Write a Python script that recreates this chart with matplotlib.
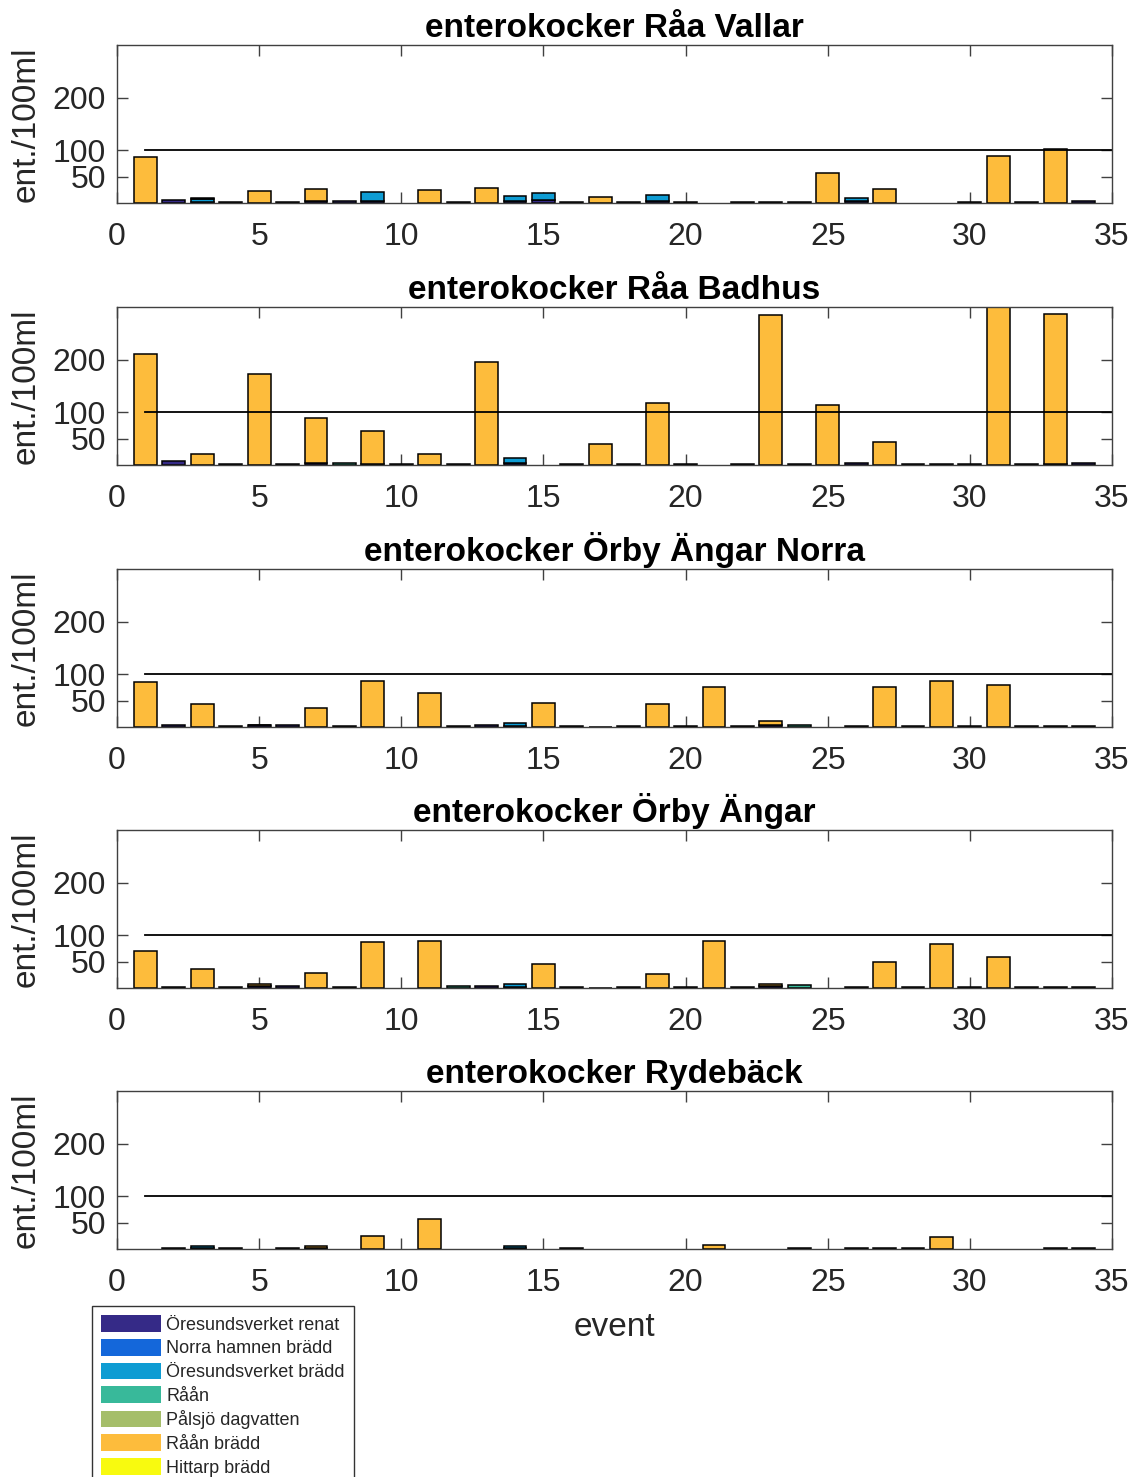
import numpy as np
import matplotlib
matplotlib.use("Agg")
import matplotlib.pyplot as plt
from matplotlib.patches import Patch

plt.rcParams['font.family'] = ['Liberation Sans', 'DejaVu Sans']

events = np.arange(1, 35)
series_names = ["Öresundsverket renat", "Norra hamnen brädd", "Öresundsverket brädd",
                "Råån", "Pålsjö dagvatten", "Råån brädd", "Hittarp brädd"]
series_colors = ["#352A87", "#1467DA", "#0E9CD3", "#38B99A", "#A5BE6A", "#FDBC3C", "#F8FA0F"]
titles = ["enterokocker Råa Vallar", "enterokocker Råa Badhus",
          "enterokocker Örby Ängar Norra", "enterokocker Örby Ängar",
          "enterokocker Rydebäck"]

Z = [0] * 34

# ---- Råa Vallar ----
vallar_renat = [0, 5, 2, 2, 0, 2.5, 4, 3, 4, 0, 0, 2, 0, 3, 6, 2.5, 0, 1, 3, 2,
                0, 1, 1, 1.5, 0, 3, 0, 0, 0, 1, 0, 1, 0, 3]
vallar_oresund_bradd = [0, 0, 5, 0, 0, 0, 0, 0, 16, 0, 0, 0, 0, 10, 12.5, 0, 0, 0, 11.5, 0,
                        0, 0, 0, 0, 0, 7, 0, 0, 0, 0, 0, 0, 0, 0]
vallar_raan = Z
vallar_raan_bradd = [87, 0, 3, 0, 23.5, 0, 23, 0, 0, 0, 24, 0, 28, 0, 0, 0, 11.5, 0, 0, 0,
                     0, 0, 0, 0, 57, 0, 26, 0, 0, 0, 88.5, 0, 102.5, 0]

# ---- Råa Badhus ----
badhus_renat = [0, 8, 0, 1, 0, 1, 4, 0, 2, 1, 0, 1, 0, 3, 0, 1, 0, 1, 0, 1,
                0, 0, 0, 1.5, 0, 4.5, 0, 1, 1, 1, 0, 1, 2, 3]
badhus_oresund_bradd = [0, 0, 0, 0, 0, 0, 0, 0, 0, 0, 0, 0, 0, 10, 0, 0, 0, 0, 0, 0,
                        0, 0, 0, 0, 0, 0, 0, 0, 0, 0, 0, 0, 0, 0]
badhus_raan = [0, 0, 0, 0, 0, 0, 0, 4.5, 0, 0, 0, 0, 0, 0, 0, 0, 0, 0, 0, 0,
               0, 1.5, 0, 0, 0, 0, 0, 0, 0, 0, 0, 0, 0, 0]
badhus_raan_bradd = [211, 0, 20, 0, 173, 0, 85, 0, 62, 0, 20, 0, 196, 0, 0, 0, 39.5, 0, 118, 0,
                     0, 0, 284, 0, 113, 0, 44.5, 0, 0, 0, 320, 0, 284, 0]

# ---- Örby Ängar Norra ----
norra_renat = [0, 4.5, 0, 1, 3, 3, 0, 1, 0, 0, 0, 2.5, 4.5, 2, 0, 1, 0.5, 1, 0, 1,
               0, 1, 4, 0, 0, 2.5, 0, 1, 0, 1, 0, 1, 1.5, 1.5]
norra_oresund_bradd = [0, 0, 0, 0, 0, 0, 0, 0, 0, 0, 0, 0, 0, 5.5, 0, 0, 0, 0, 0, 0,
                       0, 0, 0, 0, 0, 0, 0, 0, 0, 0, 0, 0, 0, 0]
norra_raan = [0, 0, 0, 0, 0, 0, 0, 0, 0, 0, 0, 0, 0, 0, 0, 0, 0, 0, 0, 0,
              0, 0, 0, 4.5, 0, 0, 0, 0, 0, 0, 0, 0, 0, 0]
norra_raan_bradd = [85, 0, 43, 0, 1.5, 0, 36, 0, 87, 0, 64, 0, 0, 0, 45, 0, 0, 0, 44, 0,
                    76, 0, 8, 0, 0, 0, 76, 0, 88, 0, 80, 0, 0, 0]

# ---- Örby Ängar ----
angar_renat = [0, 2.5, 0, 1.5, 3, 4.5, 0, 1, 0, 0, 0, 0, 3, 2, 0, 1, 0.5, 1.5, 0, 1,
               0, 1, 3, 0, 0, 2.5, 0, 2.5, 0, 1, 0, 1, 2, 1]
angar_oresund_bradd = [0, 0, 0, 0, 0, 0, 0, 0, 0, 0, 0, 0, 0, 6, 0, 0, 0, 0, 0, 0,
                       0, 0, 0, 0, 0, 0, 0, 0, 0, 0, 0, 0, 0, 0]
angar_raan = [0, 0, 0, 0, 0, 0, 0, 0, 0, 0, 0, 3, 0, 0, 0, 0, 0, 0, 0, 0,
              0, 0, 0, 5.5, 0, 0, 0, 0, 0, 0, 0, 0, 0, 0]
angar_raan_bradd = [71, 0, 37, 0, 4, 0, 28, 0, 87, 0, 90, 0, 0, 0, 45, 0, 0, 0, 26, 0,
                    90, 0, 4.5, 0, 0, 0, 49, 0, 83, 0, 58.5, 0, 0, 0]

# ---- Rydebäck ----
ryde_renat = [0, 2, 2, 1, 0, 1, 1.5, 0, 0, 0, 0, 0, 0, 2, 0, 1, 0, 0, 0, 0,
              0, 0, 0, 1, 0, 2, 0, 1, 0, 0, 0, 0, 1, 1]
ryde_oresund_bradd = [0, 0, 4.5, 0, 0, 0, 0, 0, 0, 0, 0, 0, 0, 3.5, 0, 0, 0, 0, 0, 0,
                      0, 0, 0, 0, 0, 0, 0, 0, 0, 0, 0, 0, 0, 0]
ryde_raan = Z
ryde_raan_bradd = [0, 0, 0, 0, 0, 0, 4, 0, 25, 0, 57, 0, 0, 0, 0, 0, 0, 0, 0, 0,
                   7.5, 0, 0, 0, 0, 0, 2, 0, 22, 0, 0, 0, 0, 0]

panels = [
    [vallar_renat, Z, vallar_oresund_bradd, vallar_raan, Z, vallar_raan_bradd, Z],
    [badhus_renat, Z, badhus_oresund_bradd, badhus_raan, Z, badhus_raan_bradd, Z],
    [norra_renat, Z, norra_oresund_bradd, norra_raan, Z, norra_raan_bradd, Z],
    [angar_renat, Z, angar_oresund_bradd, angar_raan, Z, angar_raan_bradd, Z],
    [ryde_renat, Z, ryde_oresund_bradd, ryde_raan, Z, ryde_raan_bradd, Z],
]

limit_value = 100
yticks = [50, 100, 200]
xticks = [0, 5, 10, 15, 20, 25, 30, 35]

W, H = 1141, 1477
fig = plt.figure(figsize=(W / 100, H / 100), dpi=100)

left_px, right_px = 117, 1112
tops = [45, 307, 569, 830, 1091]
ax_h = 158
spine_col = "#404040"

axes = []
for i, (title, data) in enumerate(zip(titles, panels)):
    ax = fig.add_axes([left_px / W, 1 - (tops[i] + ax_h) / H,
                       (right_px - left_px) / W, ax_h / H])
    bottom = np.zeros(len(events))
    for s, vals in enumerate(data):
        v = np.asarray(vals, dtype=float)
        lw = np.where(v > 0, 1.1, 0.0)
        ax.bar(events, v, width=0.8, bottom=bottom, color=series_colors[s],
               edgecolor="black", linewidth=lw, zorder=2)
        bottom = bottom + v
    ax.plot([1, 35], [limit_value, limit_value], color="black", lw=1.3, zorder=3)
    ax.set_xlim(0, 35)
    ax.set_ylim(0, 300)
    ax.set_xticks(xticks)
    ax.set_yticks(yticks)
    ax.tick_params(direction="in", length=8, width=1.0, colors=spine_col,
                   labelcolor="#262626", labelsize=23, top=True, right=True)
    ax.tick_params(axis="x", pad=14)
    ax.tick_params(axis="y", pad=8)
    for sp in ax.spines.values():
        sp.set_color(spine_col)
        sp.set_linewidth(1.0)
        sp.set_zorder(4)
    ax.set_title(title, fontsize=24, fontweight="bold", pad=6, color="black")
    ax.set_ylabel("ent./100ml", fontsize=24, labelpad=8, color="#262626")
    axes.append(ax)

axes[-1].set_xlabel("event", fontsize=24, labelpad=10, color="#262626")

handles = [Patch(facecolor=c, edgecolor="none") for c in series_colors]
leg = fig.legend(handles, series_names, loc="upper left",
                 bbox_to_anchor=(92 / W, 1 - 1306 / H), borderaxespad=0,
                 fontsize=13, frameon=True, fancybox=False, edgecolor="black",
                 handlelength=3.3, handleheight=1.05, handletextpad=0.3,
                 labelspacing=0.29, borderpad=0.5)
leg.get_frame().set_linewidth(1.0)
for t in leg.get_texts():
    t.set_color("#262626")

fig.savefig("out.png", dpi=100)
